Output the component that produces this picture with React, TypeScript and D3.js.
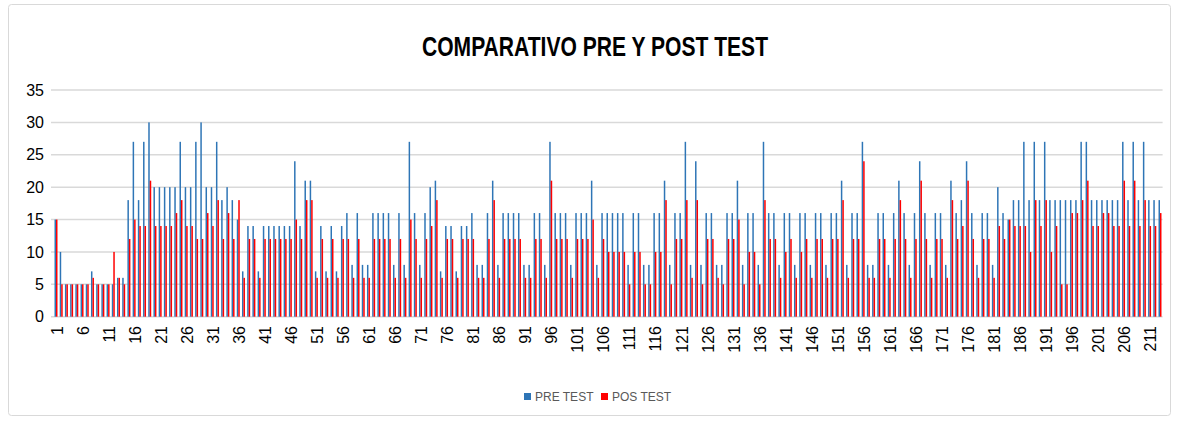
import * as d3 from "d3"
import { useEffect, useRef } from "react"

const preTest = [
  15, 10, 5, 5, 5, 5, 5, 7, 5, 5,
  5, 5, 6, 6, 18, 27, 18, 27, 30, 20,
  20, 20, 20, 20, 27, 20, 20, 27, 30, 20,
  20, 27, 18, 20, 18, 15, 7, 14, 14, 7,
  14, 14, 14, 14, 14, 14, 24, 14, 21, 21,
  7, 14, 7, 14, 7, 14, 16, 8, 16, 8,
  8, 16, 16, 16, 16, 8, 16, 8, 27, 16,
  8, 16, 20, 21, 7, 14, 14, 7, 14, 14,
  16, 8, 8, 16, 21, 8, 16, 16, 16, 16,
  8, 8, 16, 16, 8, 27, 16, 16, 16, 8,
  16, 16, 16, 21, 8, 16, 16, 16, 16, 16,
  8, 16, 16, 8, 8, 16, 16, 21, 8, 16,
  16, 27, 8, 24, 8, 16, 16, 8, 8, 16,
  16, 21, 8, 16, 16, 8, 27, 16, 16, 8,
  16, 16, 8, 16, 16, 8, 16, 16, 8, 16,
  16, 21, 8, 16, 16, 27, 8, 8, 16, 16,
  8, 16, 21, 16, 8, 16, 24, 16, 8, 16,
  16, 8, 21, 16, 18, 24, 16, 8, 16, 16,
  8, 20, 16, 15, 18, 18, 27, 18, 27, 18,
  27, 18, 18, 18, 18, 18, 18, 27, 27, 18,
  18, 18, 18, 18, 18, 27, 18, 27, 18, 27,
  18, 18, 18,
]

const posTest = [
  15, 5, 5, 5, 5, 5, 5, 6, 5, 5,
  5, 10, 6, 5, 12, 15, 14, 14, 21, 14,
  14, 14, 14, 16, 18, 14, 14, 12, 12, 16,
  14, 18, 12, 16, 12, 18, 6, 12, 12, 6,
  12, 12, 12, 12, 12, 12, 15, 12, 18, 18,
  6, 12, 6, 12, 6, 12, 12, 6, 12, 6,
  6, 12, 12, 12, 12, 6, 12, 6, 15, 12,
  6, 12, 14, 18, 6, 12, 12, 6, 12, 12,
  12, 6, 6, 12, 18, 6, 12, 12, 12, 12,
  6, 6, 12, 12, 6, 21, 12, 12, 12, 6,
  12, 12, 12, 15, 6, 12, 10, 10, 10, 10,
  5, 10, 10, 5, 5, 10, 10, 18, 5, 12,
  12, 18, 6, 18, 5, 12, 12, 6, 5, 12,
  12, 15, 5, 10, 10, 5, 18, 12, 12, 6,
  10, 12, 6, 10, 12, 6, 12, 12, 6, 12,
  12, 18, 6, 12, 12, 24, 6, 6, 12, 12,
  6, 12, 18, 12, 6, 12, 21, 12, 6, 12,
  12, 6, 18, 12, 14, 21, 12, 6, 12, 12,
  6, 14, 12, 15, 14, 14, 14, 10, 18, 14,
  18, 10, 14, 5, 5, 16, 16, 18, 21, 14,
  14, 16, 16, 14, 14, 21, 14, 21, 14, 18,
  14, 14, 16,
]

const categories = preTest.map((_, i) => String(i + 1))
const xTickLabels = categories.filter((_, i) => i % 5 === 0)
const yTicks = [0, 5, 10, 15, 20, 25, 30, 35]
const seriesNames = ["PRE TEST", "POS TEST"]
const seriesColors = ["#2E75B6", "#FF0000"]

const App = () => {
  const svgRef = useRef<SVGSVGElement | null>(null)

  useEffect(() => {
    if (!svgRef.current) return
    const svg = d3.select(svgRef.current)
    svg.selectAll("*").remove()

    const W = 1179
    const H = 421
    const left = 53.4
    const right = 1162.6
    const top = 90
    const bottom = 316.7

    // chart border
    svg
      .append("rect")
      .attr("x", 8.5)
      .attr("y", 4.5)
      .attr("width", W - 17)
      .attr("height", H - 10)
      .attr("rx", 3)
      .attr("fill", "#fff")
      .attr("stroke", "#d9d9d9")

    // title
    svg
      .append("text")
      .attr("x", 595)
      .attr("y", 56)
      .attr("text-anchor", "middle")
      .attr("textLength", 346)
      .attr("lengthAdjust", "spacingAndGlyphs")
      .style("font", "bold 28px 'Liberation Sans Narrow', 'Arial Narrow', sans-serif")
      .attr("fill", "#000")
      .text("COMPARATIVO PRE Y POST TEST")

    const x = d3.scaleBand().domain(categories).range([left, right]).padding(0)
    const xInner = d3
      .scaleBand()
      .domain(seriesNames)
      .range([0, x.bandwidth()])
      .paddingInner(0)
      .paddingOuter(0.75)
    const y = d3.scaleLinear().domain([0, 35]).range([bottom, top])

    // gridlines
    svg
      .append("g")
      .selectAll("line")
      .data(yTicks)
      .enter()
      .append("line")
      .attr("x1", 51)
      .attr("x2", right)
      .attr("y1", (d) => y(d))
      .attr("y2", (d) => y(d))
      .attr("stroke", "#d9d9d9")
      .attr("stroke-width", 1.5)

    // y labels
    svg
      .append("g")
      .selectAll("text")
      .data(yTicks)
      .enter()
      .append("text")
      .attr("x", 44)
      .attr("y", (d) => y(d))
      .attr("dy", "0.35em")
      .attr("text-anchor", "end")
      .style("font", "16px 'Liberation Sans', Arial, sans-serif")
      .attr("fill", "#000")
      .text((d) => d)

    // bars
    const data = categories.map((c, i) => ({ c, vals: [preTest[i], posTest[i]] }))
    const groups = svg
      .append("g")
      .selectAll("g")
      .data(data)
      .enter()
      .append("g")
      .attr("transform", (d) => `translate(${x(d.c)},0)`)
    groups
      .selectAll("rect")
      .data((d) => d.vals.map((v, k) => ({ v, k })))
      .enter()
      .append("rect")
      .attr("x", (d) => xInner(seriesNames[d.k])!)
      .attr("width", xInner.bandwidth())
      .attr("y", (d) => y(d.v))
      .attr("height", (d) => y(0) - y(d.v))
      .attr("fill", (d) => seriesColors[d.k])

    // x labels
    svg
      .append("g")
      .selectAll("text")
      .data(xTickLabels)
      .enter()
      .append("text")
      .attr("transform", (d) => `translate(${x(d)! + x.bandwidth() / 2 + 1},326) rotate(-90)`)
      .attr("dy", "0.35em")
      .attr("text-anchor", "end")
      .style("font", "16px 'Liberation Sans', Arial, sans-serif")
      .attr("fill", "#000")
      .text((d) => d)

    // legend
    const legendX = [524, 601]
    const legend = svg
      .append("g")
      .selectAll("g")
      .data(seriesNames)
      .enter()
      .append("g")
      .attr("transform", (_, i) => `translate(${legendX[i]},393)`)
    legend
      .append("rect")
      .attr("width", 7)
      .attr("height", 7)
      .attr("fill", (_, i) => seriesColors[i])
    legend
      .append("text")
      .attr("x", 11)
      .attr("y", 4)
      .attr("dy", "0.35em")
      .style("font", "12px 'Liberation Sans', Arial, sans-serif")
      .attr("fill", "#595959")
      .text((d) => d)
  }, [])

  return (
    <svg
      ref={svgRef}
      width={1179}
      height={421}
      style={{ position: "absolute", left: 0, top: 0 }}
    />
  )
}

export default App
